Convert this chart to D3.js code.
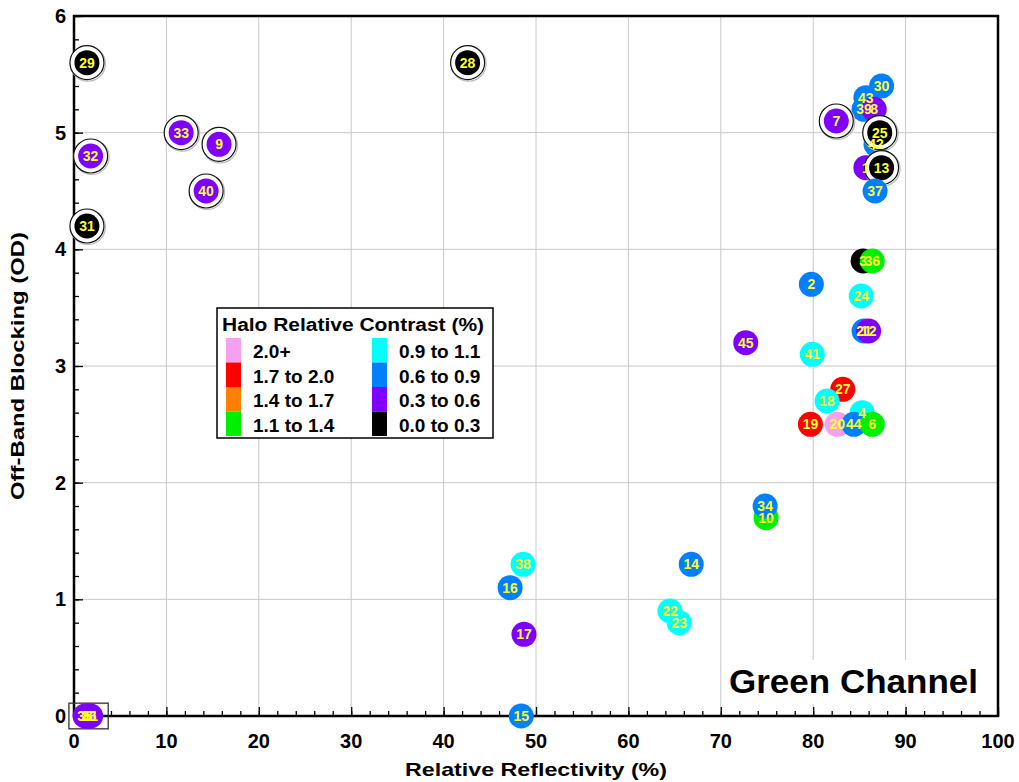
<!DOCTYPE html>
<html><head>
<script src="https://d3js.org/d3.v7.min.js"></script>
<style>
  body { margin: 0; background: #fff; }
  text { font-family: Arial, "Liberation Sans", sans-serif; font-weight: bold; }
</style>
</head>
<body>
<svg id="chart" width="1019" height="782"></svg>
<script>
// legend classes
const classNames = ["2.0+", "1.7 to 2.0", "1.4 to 1.7", "1.1 to 1.4", "0.9 to 1.1", "0.6 to 0.9", "0.3 to 0.6", "0.0 to 0.3"];
const classColors = ["#f7a0f0", "#ff0000", "#ff8000", "#00ee00", "#00ffff", "#0080ff", "#8000ff", "#000000"];

// points (drawing order matters for overlaps)
const ids    = [29, 28, 33, 9, 32, 40, 31, 30, 43, 39, 8, 42, 25, 7, 1, 13, 37, 3, 36, 2, 24, 21, 12, 45, 41, 27, 18, 4, 19, 20, 44, 6, 10, 34, 14, 38, 16, 22, 23, 17, 15, 35, 26, 5, 11];
const reflect= [1.4, 42.6, 11.6, 15.7, 1.8, 14.3, 1.4, 87.4, 85.7, 85.5, 86.6, 86.8, 87.2, 82.5, 85.7, 87.4, 86.7, 85.4, 86.4, 79.8, 85.2, 85.5, 86.0, 72.7, 79.9, 83.2, 81.5, 85.3, 79.7, 82.6, 84.4, 86.4, 74.9, 74.8, 66.8, 48.6, 47.2, 64.5, 65.5, 48.7, 48.4, 1.2, 1.6, 1.4, 1.8];
const od     = [5.6, 5.6, 5.0, 4.9, 4.8, 4.5, 4.2, 5.4, 5.3, 5.2, 5.2, 4.9, 5.0, 5.1, 4.7, 4.7, 4.5, 3.9, 3.9, 3.7, 3.6, 3.3, 3.3, 3.2, 3.1, 2.8, 2.7, 2.6, 2.5, 2.5, 2.5, 2.5, 1.7, 1.8, 1.3, 1.3, 1.1, 0.9, 0.8, 0.7, 0.0, 0.0, 0.0, 0.0, 0.0];
const cls    = [7, 7, 6, 6, 6, 6, 7, 5, 5, 5, 6, 5, 7, 6, 6, 7, 5, 7, 3, 5, 4, 5, 6, 6, 4, 1, 4, 4, 1, 0, 5, 3, 3, 5, 5, 4, 5, 4, 4, 6, 5, 6, 6, 6, 6];
const halo   = [1, 1, 1, 1, 1, 1, 1, 0, 0, 0, 0, 0, 1, 1, 0, 1, 0, 0, 0, 0, 0, 0, 0, 0, 0, 0, 0, 0, 0, 0, 0, 0, 0, 0, 0, 0, 0, 0, 0, 0, 0, 0, 0, 0, 0];

const xTicks = [0, 10, 20, 30, 40, 50, 60, 70, 80, 90, 100];
const yTicks = [0, 1, 2, 3, 4, 5, 6];

const svg = d3.select("svg#chart");
const margins = {top: 16, right: 21, bottom: 66, left: 74};
const W = +svg.attr("width"), H = +svg.attr("height");

const x = d3.scaleLinear().domain([0, 100]).range([margins.left, W - margins.right]);
const y = d3.scaleLinear().domain([0, 6]).range([H - margins.bottom, margins.top]);

// gridlines
xTicks.forEach(t => {
  svg.append("line").attr("x1", x(t)).attr("x2", x(t)).attr("y1", y(0)).attr("y2", y(6))
     .style("stroke", "#c8c8c8").style("stroke-width", 1);
});
yTicks.forEach(t => {
  svg.append("line").attr("x1", x(0)).attr("x2", x(100)).attr("y1", y(t)).attr("y2", y(t))
     .style("stroke", "#c8c8c8").style("stroke-width", 1);
});

// Green Channel label with white box
svg.append("rect").attr("x", 722).attr("y", 660).attr("width", 264).attr("height", 44).style("fill", "#fff");
svg.append("text").attr("x", 729).attr("y", 693)
   .style("font-size", "33px").attr("textLength", 249).attr("lengthAdjust", "spacingAndGlyphs")
   .text("Green Channel");

// axes with inward ticks
svg.append("g").attr("transform", `translate(0,${y(0)})`)
   .call(d3.axisBottom(x).tickValues(d3.range(0, 101, 2)).tickSize(-5).tickFormat(""));
svg.append("g").attr("transform", `translate(0,${y(0)})`)
   .call(d3.axisBottom(x).tickValues(xTicks).tickSize(-9).tickFormat(""));
svg.append("g").attr("transform", `translate(${x(0)},0)`)
   .call(d3.axisLeft(y).tickValues(d3.range(0, 6.01, 0.2)).tickSize(-5).tickFormat(""));
svg.append("g").attr("transform", `translate(${x(0)},0)`)
   .call(d3.axisLeft(y).tickValues(yTicks).tickSize(-9).tickFormat(""));
svg.selectAll(".domain").remove();
svg.selectAll(".tick line").style("stroke", "#000").style("stroke-width", 1.3);

// frame
svg.append("rect").attr("x", x(0)).attr("y", y(6)).attr("width", x(100) - x(0)).attr("height", y(0) - y(6))
   .style("fill", "none").style("stroke", "#000").style("stroke-width", 2.5);

// tick labels
xTicks.forEach(t => {
  svg.append("text").attr("x", x(t)).attr("y", y(0) + 32).attr("text-anchor", "middle")
     .style("font-size", "20px").text(t);
});
yTicks.forEach(t => {
  svg.append("text").attr("x", x(0) - 8).attr("y", y(t) + 7).attr("text-anchor", "end")
     .style("font-size", "20px").text(t);
});

// axis titles
svg.append("text").attr("x", 405).attr("y", 776)
   .style("font-size", "19px").attr("textLength", 262).attr("lengthAdjust", "spacingAndGlyphs")
   .text("Relative Reflectivity (%)");
svg.append("text").attr("transform", `translate(24,${(y(0) + y(6)) / 2}) rotate(-90)`)
   .attr("x", -134).style("font-size", "19px").attr("textLength", 268).attr("lengthAdjust", "spacingAndGlyphs")
   .text("Off-Band Blocking (OD)");

// box around the zero cluster
svg.append("rect").attr("x", x(-0.55)).attr("y", y(0.11)).attr("width", x(3.7) - x(-0.55)).attr("height", y(-0.11) - y(0.11))
   .style("fill", "none").style("stroke", "#333").style("stroke-width", 1.3);

// points
const pts = ids.map((id, i) => ({id: id, rx: reflect[i], od: od[i], c: cls[i], halo: halo[i]}));
pts.forEach(d => {
  if (d.halo) {
    svg.append("circle").attr("cx", x(d.rx) + 1).attr("cy", y(d.od) + 1).attr("r", 17.5)
       .style("fill", "none").style("stroke", "#bbb").style("stroke-width", 1.2);
    svg.append("circle").attr("cx", x(d.rx)).attr("cy", y(d.od)).attr("r", 17)
       .style("fill", "#fff").style("stroke", "#111").style("stroke-width", 1.2);
  }
  svg.append("circle").attr("cx", x(d.rx)).attr("cy", y(d.od)).attr("r", 12.5)
     .style("fill", classColors[d.c]);
});
pts.forEach(d => {
  svg.append("text").attr("x", x(d.rx)).attr("y", y(d.od) + 5).attr("text-anchor", "middle")
     .style("font-size", "14px").style("fill", "#ffff33").text(d.id);
});

// legend
const lg = svg.append("g").attr("transform", "translate(217,308)");
lg.append("rect").attr("width", 276).attr("height", 130).style("fill", "#fff")
  .style("stroke", "#000").style("stroke-width", 1.5);
lg.append("text").attr("x", 5).attr("y", 23).style("font-size", "18px")
  .attr("textLength", 262).attr("lengthAdjust", "spacingAndGlyphs").text("Halo Relative Contrast (%)");
classNames.forEach((n, i) => {
  const col = Math.floor(i / 4), row = i % 4;
  const gx = col === 0 ? 9 : 155;
  lg.append("rect").attr("x", gx).attr("y", 30 + row * 24.5).attr("width", 15).attr("height", 24.5)
    .style("fill", classColors[i]);
  lg.append("text").attr("x", gx + 27).attr("y", 50 + row * 24.5).style("font-size", "19px").text(n);
});
</script>
</body>
</html>
